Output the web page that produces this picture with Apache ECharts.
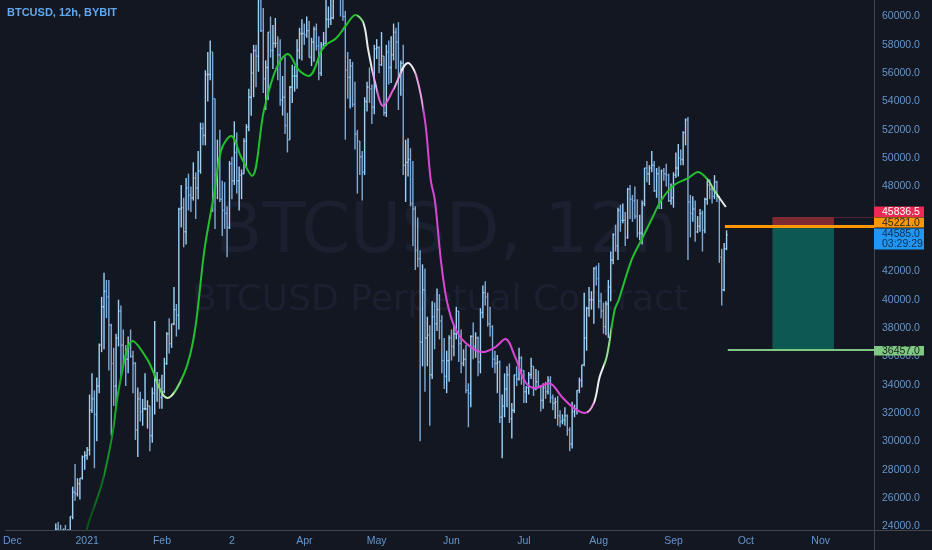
<!DOCTYPE html>
<html><head><meta charset="utf-8">
<script src="https://cdn.jsdelivr.net/npm/echarts@6/dist/echarts.min.js"></script>
<style>html,body{margin:0;padding:0;background:#131722;}#c{width:932px;height:550px;}</style>
</head><body><div id="c"></div>
<script>
// ---- DATA (prices in thousands of USD; days counted from 2020-12-01) ----
const firstDay = 15;          // first bar = 2020-12-16
const firstOpen = 19.4;
const highs = [
 21.5,23.7,23.3,24.2,24.3,24.1,23.8,24.1,23.8,24.7,26.8,28.4,27.4,27.4,29.0,29.3,
 29.6,33.3,34.8,33.6,34.5,36.9,40.2,41.9,41.4,41.4,38.3,36.6,37.6,40.0,39.6,37.9,36.8,37.4,37.9,36.4,35.6,33.8,33.5,33.0,34.8,32.9,32.5,33.8,38.5,34.9,34.4,
 34.7,35.9,37.7,38.7,38.3,40.9,39.7,46.5,48.1,47.2,48.6,48.9,48.0,49.7,49.0,50.5,52.5,52.5,56.2,57.5,58.3,57.5,54.2,51.3,52.0,48.4,48.3,46.6,
 49.8,50.1,52.6,51.8,49.4,49.2,51.4,52.4,54.9,57.4,58.0,58.0,61.7,61.6,60.6,56.9,58.9,60.0,59.4,59.9,58.6,58.4,55.8,57.2,53.2,55.1,56.6,56.5,58.4,59.2,59.8,
 59.5,60.0,59.7,58.5,59.3,59.5,58.6,58.2,58.9,61.3,60.7,61.2,63.7,64.9,63.8,63.5,62.5,60.4,57.5,57.0,56.8,55.4,52.0,51.2,50.5,54.3,55.4,56.4,55.2,58.0,
 58.4,57.9,58.9,57.2,58.0,58.3,58.6,59.5,59.2,59.6,56.9,58.0,51.3,51.4,50.7,49.8,46.6,45.8,43.5,42.5,42.2,38.8,38.2,39.9,39.8,40.8,40.4,38.9,37.3,36.4,37.5,
 37.9,38.2,39.5,39.2,37.9,36.5,36.8,34.1,37.5,38.4,37.7,37.4,39.4,41.0,41.3,40.5,39.5,38.2,36.4,36.1,35.7,33.3,34.8,35.3,35.5,32.7,34.7,35.3,36.6,36.0,
 35.0,33.9,34.9,35.9,35.3,35.1,35.0,33.9,34.1,34.2,34.6,34.6,33.3,33.1,33.2,32.2,31.9,32.4,31.9,31.0,32.8,32.6,33.6,34.5,35.4,40.5,39.5,40.9,40.6,42.3,42.4,
 42.6,40.5,39.8,39.9,41.4,43.4,44.7,45.3,46.5,46.7,46.8,46.2,47.9,48.1,47.4,48.0,47.1,46.0,47.0,49.3,49.8,49.5,50.5,49.8,49.3,49.4,49.2,49.3,49.6,48.9,48.2,
 49.0,50.4,51.0,50.6,51.9,52.8,52.9,47.4,47.3,47.0,45.9,46.4,46.3,47.2,48.4,48.5,48.0,48.8,48.4,47.3,43.6,44.0,44.9
];
const lows = [
 19.3,21.2,22.3,22.8,23.1,22.0,22.3,22.7,22.7,23.4,24.5,25.8,26.1,25.9,27.3,28.0,
 28.7,29.0,32.0,28.1,30.0,33.4,36.3,36.5,38.7,35.0,30.4,32.5,32.4,36.7,34.4,35.4,33.9,34.8,35.9,33.4,30.1,28.9,31.4,31.1,32.2,30.9,29.3,29.9,31.9,32.8,32.3,
 32.3,33.4,35.4,36.2,36.6,38.2,37.4,37.9,45.1,43.7,43.9,46.3,46.2,47.0,45.7,47.1,48.9,50.9,50.9,54.0,55.5,46.2,45.0,47.1,46.9,44.5,45.0,43.0,
 45.0,47.1,48.1,47.5,46.3,47.1,48.9,49.3,51.9,53.0,54.3,55.0,56.1,58.9,54.6,53.4,54.1,57.1,56.3,57.8,55.5,53.7,53.0,51.7,50.4,51.3,53.9,54.7,54.9,57.0,56.9,
 58.0,58.5,57.1,56.5,56.8,57.6,55.5,55.8,57.7,57.9,59.2,59.4,59.8,61.3,62.0,60.0,59.7,51.3,54.2,53.5,53.6,50.6,47.5,48.8,47.0,48.8,53.3,53.9,52.4,53.1,
 57.0,56.0,56.5,53.0,52.9,55.2,55.3,56.9,56.3,53.4,54.4,48.8,46.9,48.7,46.6,43.8,42.1,42.3,30.0,35.3,33.5,35.3,31.1,34.4,36.5,37.8,37.2,34.8,33.7,33.4,34.2,
 35.7,36.0,37.2,35.6,34.8,35.3,33.4,31.0,32.4,35.8,35.9,34.6,34.8,38.7,39.6,38.1,37.4,35.2,34.8,33.4,31.3,28.8,31.7,32.4,31.3,30.2,32.0,33.9,34.3,34.0,
 32.7,32.7,33.3,34.4,33.2,33.6,33.8,32.1,32.3,33.0,33.3,32.7,32.2,31.6,31.1,31.0,31.2,31.1,30.4,29.3,29.5,31.7,31.9,33.4,33.8,35.3,36.4,38.8,39.3,38.3,41.0,
 39.4,38.7,37.6,37.5,37.3,39.9,42.5,43.4,42.8,44.8,45.4,43.8,44.3,45.7,45.5,45.7,44.4,44.2,43.9,46.6,48.3,48.1,49.0,47.6,47.2,46.4,46.4,48.4,48.0,46.9,46.7,
 46.5,48.6,48.7,49.5,49.5,50.9,42.8,44.4,45.5,44.1,44.7,44.8,43.4,44.7,46.7,47.1,46.8,47.1,46.9,42.6,39.6,40.6,43.5
];
const closes = [
 21.3,22.8,23.1,23.8,23.5,22.7,23.8,23.2,23.7,24.7,26.4,26.3,27.0,27.4,28.9,29.0,
 29.4,32.2,33.0,31.9,33.9,36.8,39.5,40.6,40.2,38.2,35.5,33.9,37.3,39.2,36.8,36.0,35.8,36.6,36.0,35.5,30.8,33.0,32.1,32.3,32.3,32.5,30.4,33.4,34.3,34.3,33.1,
 33.5,35.5,37.6,36.9,38.3,39.3,38.9,46.4,46.5,44.8,47.9,47.4,47.2,48.6,47.9,49.1,52.1,51.6,55.9,55.9,57.5,54.2,48.8,49.7,47.1,46.3,46.1,45.1,
 49.6,48.4,50.4,48.4,48.8,48.9,51.2,52.2,54.3,56.0,57.6,57.2,61.2,59.0,55.6,56.4,58.9,57.6,58.1,58.1,57.3,54.1,54.3,52.3,51.3,55.0,55.8,55.8,57.6,58.8,58.8,
 58.7,59.0,57.1,58.2,59.1,57.9,56.0,58.0,58.1,59.8,59.8,59.9,63.5,62.9,63.2,61.4,60.0,56.2,55.7,56.5,53.8,51.7,51.2,50.1,49.0,54.0,55.0,54.9,53.6,57.7,
 57.8,56.6,57.2,53.2,57.5,56.4,57.3,58.9,58.2,55.8,56.7,49.5,49.7,49.9,46.8,46.4,43.5,42.9,37.0,40.7,37.3,37.5,34.7,38.8,38.3,39.3,38.5,35.7,34.6,35.7,37.3,
 36.7,37.6,39.2,36.9,35.5,35.8,33.6,33.4,37.4,36.7,37.3,35.6,39.1,40.5,40.2,38.3,38.1,35.8,35.5,35.6,31.7,32.5,33.7,34.7,31.6,32.2,34.7,34.4,35.9,35.0,
 33.5,33.8,34.7,35.3,33.7,34.2,33.9,32.9,33.8,33.5,34.3,33.1,32.7,32.8,31.8,31.4,31.5,31.8,30.8,29.8,32.1,32.3,33.6,34.3,35.4,37.3,39.4,40.0,40.0,42.2,41.5,
 39.9,39.2,38.1,39.7,40.9,42.8,44.6,43.8,46.3,45.6,45.6,44.4,47.8,47.1,47.0,45.9,44.7,44.7,46.8,49.3,48.9,49.3,49.5,47.7,48.9,46.9,49.1,48.9,48.8,47.0,47.2,
 48.8,49.3,50.0,49.9,51.8,52.7,46.9,46.1,46.4,44.8,45.2,46.1,44.9,47.1,48.1,47.8,47.3,48.3,47.3,43.0,40.7,43.6,44.585
];
// colored moving average
const maDays = [28.5,31.0,37.2,41.3,44.6,49.9,56.1,64.3,71.3,75.5,79.6,83.7,86.6,90.7,94.8,99.3,104.3,109.6,114.2,118.7,122.8,129.0,134.3,138.4,142.2,145.5,147.5,150.4,153.7,157.8,164.0,167.3,171.0,173.4,175.1,177.6,180.0,183.3,187.9,194.8,200.2,204.3,208.4,212.6,216.7,222.4,227.8,232.7,237.3,241.0,243.4,246.3,249.6,251.3,256.6,260.7,264.8,269.0,274.3,280.1,284.2,288.3,290.8,295.7];
const maValues = [21.6,23.88,27.06,30.31,34.12,37.09,35.74,33.06,34.83,37.65,43.51,47.54,50.58,51.57,50.08,48.74,53.40,56.43,57.35,56.22,55.80,57.85,58.48,59.40,60.11,59.54,57.63,55.30,53.68,54.81,56.72,55.87,52.69,48.45,47.04,42.80,39.98,38.07,36.94,36.30,36.66,37.22,35.95,34.19,33.76,34.11,33.13,32.35,32.00,32.71,34.54,35.95,39.27,39.98,42.80,44.22,45.63,47.04,48.10,48.59,49.02,48.45,47.75,46.55];
// short position tool
const entryPrice = 45.221, stopPrice = 45.8365, targetPrice = 36.457;
const positionDays = [315, 340.5];
const entryLineStartDay = 295.3, targetLineStartDay = 296.5;
const lastPrice = 44.585, barTimer = '03:29:29';
// axes
const monthDays = [0,31,62,91,121,151,182,212,243,274,304,335];
const monthLabels = ['Dec','2021','Feb','2','Apr','May','Jun','Jul','Aug','Sep','Oct','Nov'];
const yTicks = [24,26,28,30,32,34,36,38,40,42,44,46,48,50,52,54,56,58,60];
const xMin = -2.76, xMax = 357.1, yMin = 23.739, yMax = 61.165;

// ---- CHART ----
const bars = highs.map((h, i) => [firstDay + i, i === 0 ? firstOpen : closes[i - 1], closes[i], lows[i], h]);
const maData = maDays.map((d, i) => [d, maValues[i]]);
const fmt = v => (v * 1000).toFixed(1);
const axisTextColor = '#6496cc';
const FONT = 'Liberation Sans, Arial, sans-serif';

const chart = echarts.init(document.getElementById('c'), null, {renderer: 'canvas'});
const option = {
  backgroundColor: '#131722',
  animation: false,
  title: {text: 'BTCUSD, 12h, BYBIT', left: 2, top: 2,
    textStyle: {fontSize: 11, fontWeight: 'bold', color: '#62a8ee', fontFamily: FONT}},
  grid: {left: 0, top: 0, right: 58, bottom: 20},
  xAxis: {type: 'value', min: xMin, max: xMax, splitLine: {show: false},
    axisLine: {onZero: false, lineStyle: {color: '#434651'}}, axisTick: {show: false},
    axisLabel: {customValues: monthDays, color: axisTextColor, fontSize: 10.5, fontFamily: FONT, margin: 6,
      formatter: v => monthLabels[monthDays.indexOf(v)] || ''}},
  yAxis: {type: 'value', position: 'right', min: yMin, max: yMax, splitLine: {show: false},
    axisLine: {show: true, onZero: false, lineStyle: {color: '#434651'}}, axisTick: {show: false},
    axisLabel: {customValues: yTicks, color: axisTextColor, fontSize: 10.5, fontFamily: FONT, margin: 8,
      formatter: v => fmt(v)}},
  visualMap: {type: 'piecewise', show: false, dimension: 0, seriesIndex: 1,
    pieces: [
      {lt: 34, color: '#0b5518'}, {gte: 34, lt: 38, color: '#0e6e1f'}, {gte: 38, lt: 42, color: '#149026'},
      {gte: 42, lt: 46, color: '#19ab28'}, {gte: 46, lt: 59, color: '#22c02c'}, {gte: 59, lt: 62, color: '#6fda6a'},
      {gte: 62, lt: 67, color: '#c6f3b5'}, {gte: 67, lt: 70, color: '#6fda6a'}, {gte: 70, lt: 143, color: '#22c02c'},
      {gte: 143, lt: 145.5, color: '#80dc80'}, {gte: 145.5, lt: 149, color: '#eaeaea'}, {gte: 149, lt: 151, color: '#e8a6e3'},
      {gte: 151, lt: 158, color: '#dc5fd6'}, {gte: 158, lt: 161, color: '#e6a8e3'}, {gte: 161, lt: 167, color: '#eeeeee'},
      {gte: 167, lt: 170, color: '#e5a0e0'}, {gte: 170, lt: 238, color: '#d846d4'}, {gte: 238, lt: 241, color: '#e6a0e2'},
      {gte: 241, lt: 245, color: '#f0f0f0'}, {gte: 245, lt: 248, color: '#90e08a'}, {gte: 248, lt: 288, color: '#22c02c'},
      {gte: 288, lt: 292, color: '#8fdc8a'}, {gte: 292, color: '#e6e6e6'}
    ]},
  series: [
    {type: 'custom', name: 'BTCUSD', clip: true, z: 3, data: bars,
      renderItem: function (params, api) {
        const x = api.value(0);
        const pO = api.coord([x, api.value(1)]);
        const pC = api.coord([x, api.value(2)]);
        const pL = api.coord([x, api.value(3)]);
        const pH = api.coord([x, api.value(4)]);
        const col = api.value(2) >= api.value(1) ? '#9fd1f6' : '#80aad6';
        const st = {stroke: col, lineWidth: 1.4};
        return {type: 'group', children: [
          {type: 'line', shape: {x1: pH[0], y1: pH[1], x2: pL[0], y2: pL[1]}, style: st},
          {type: 'line', shape: {x1: pO[0] - 1, y1: pO[1], x2: pO[0], y2: pO[1]}, style: st},
          {type: 'line', shape: {x1: pC[0], y1: pC[1], x2: pC[0] + 1, y2: pC[1]}, style: st}
        ]};
      }},
    {type: 'line', name: 'MA', data: maData, smooth: 0.35, showSymbol: false, z: 5,
      lineStyle: {width: 2}},
    {type: 'line', name: 'position', data: [], z: 4, silent: true,
      markArea: {silent: true, data: [
        [{coord: [positionDays[0], entryPrice], itemStyle: {color: '#0d5852', opacity: 1}}, {coord: [positionDays[1], targetPrice]}],
        [{coord: [positionDays[0], stopPrice], itemStyle: {color: '#7d2a33', opacity: 1}}, {coord: [positionDays[1], entryPrice]}]
      ]},
      markLine: {silent: true, symbol: ['none', 'none'], label: {show: false}, data: [
        [{coord: [positionDays[1], stopPrice], lineStyle: {color: '#4d2430', width: 1, type: 'solid'}}, {coord: [xMax, stopPrice]}],
        [{coord: [entryLineStartDay, entryPrice], lineStyle: {color: '#ff9800', width: 3, type: 'solid'}}, {coord: [xMax, entryPrice]}],
        [{coord: [targetLineStartDay, targetPrice], lineStyle: {color: '#81c784', width: 2, type: 'solid'}}, {coord: [xMax, targetPrice]}]
      ]}}
  ]
};
chart.setOption(option);

// price tags on the axis, placed through the chart's own scale
const py = v => chart.convertToPixel({yAxisIndex: 0}, v);
const tagX = chart.convertToPixel({xAxisIndex: 0}, xMax);
const tagW = 50;
function tag(id, top, h, fill, txt, txtColor) {
  return [
    {type: 'rect', id: id + 'r', zlevel: 1, z: 100, shape: {x: tagX, y: top, width: tagW, height: h}, style: {fill: fill}},
    {type: 'text', id: id + 't', zlevel: 1, z: 101, x: tagX + 8, y: top + h / 2 + 0.5, style: {text: txt, fill: txtColor, font: '10.5px ' + FONT, textVerticalAlign: 'middle'}}
  ];
}
const gridBottom = py(yMin);
const stopTop = py(stopPrice) - 10.5;
const entryTop = stopTop + 11;
const lastTop = entryTop + 11;
const graphics = [
  {type: 'text', id: 'wm1', z: -1, x: 446, y: 234, silent: true,
    style: {text: 'BTCUSD, 12h', fill: '#1b2030', font: '70px DejaVu Sans', textAlign: 'center', textVerticalAlign: 'middle'}},
  {type: 'text', id: 'wm2', z: -1, x: 440, y: 301, silent: true,
    style: {text: 'BTCUSD Perpetual Contract', fill: '#1b2030', font: '36px DejaVu Sans', textAlign: 'center', textVerticalAlign: 'middle'}},
  {type: 'line', id: 'ax1', shape: {x1: tagX + 0.5, y1: gridBottom, x2: tagX + 0.5, y2: 550}, style: {stroke: '#434651', lineWidth: 1}},
  {type: 'line', id: 'ax2', shape: {x1: tagX, y1: gridBottom + 0.5, x2: 932, y2: gridBottom + 0.5}, style: {stroke: '#434651', lineWidth: 1}},
  {type: 'rect', id: 'gapcover', zlevel: 1, z: 99, shape: {x: tagX + 1, y: stopTop, width: tagW, height: lastTop + 21 - stopTop}, style: {fill: '#131722'}}
]
.concat(tag('stop', stopTop, 10.5, '#ec2a55', fmt(stopPrice), '#ffffff'))
.concat(tag('entry', entryTop, 10, '#ff9800', fmt(entryPrice), '#1e222d'))
.concat([
  {type: 'rect', id: 'lastr', zlevel: 1, z: 100, shape: {x: tagX, y: lastTop, width: tagW, height: 21}, style: {fill: '#2196f3'}},
  {type: 'text', id: 'lastt', zlevel: 1, z: 101, x: tagX + 8, y: lastTop + 1,
    style: {text: fmt(lastPrice) + '\n' + barTimer, fill: '#0b2e55', font: '10.5px ' + FONT, lineHeight: 10}}
])
.concat(tag('target', py(targetPrice) - 4, 9.5, '#81c784', fmt(targetPrice), '#13261a'));
chart.setOption({graphic: {elements: graphics}});
</script></body></html>
